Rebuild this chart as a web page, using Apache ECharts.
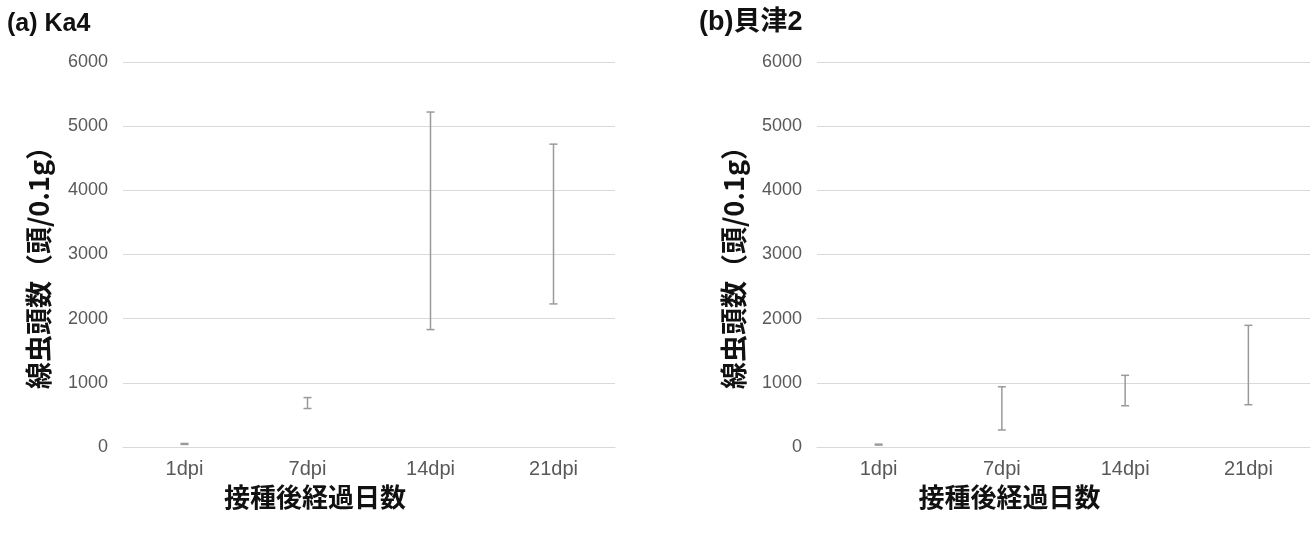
<!DOCTYPE html>
<html>
<head>
<meta charset="utf-8">
<script src="https://cdn.jsdelivr.net/npm/echarts@6/dist/echarts.min.js"></script>
<style>
  html, body { margin: 0; padding: 0; background: #fff; }
  #chart { width: 1314px; height: 534px; }
</style>
</head>
<body>
<div id="chart"></div>
<script>
var categories = ['1dpi', '7dpi', '14dpi', '21dpi'];
var yTicks = [0, 1000, 2000, 3000, 4000, 5000, 6000];

// error bar ranges (low / high)
var ka4Low = [40, 600, 1830, 2230];
var ka4High = [55, 770, 5220, 4720];
var kaizuLow = [30, 265, 643, 659];
var kaizuHigh = [45, 939, 1117, 1896];

var latin = '"Liberation Sans", "Noto Sans CJK JP", sans-serif';
var cjk = '"Noto Sans CJK JP", "Liberation Sans", sans-serif';

function pairs(low, high) {
    return categories.map(function (c, i) { return [i, low[i], high[i]]; });
}

function errorBar(params, api) {
    var lo = api.coord([api.value(0), api.value(1)]);
    var hi = api.coord([api.value(0), api.value(2)]);
    var half = 4;
    var style = { stroke: '#9a9a9a', lineWidth: 1.5 };
    return {
        type: 'group',
        children: [
            { type: 'line', shape: { x1: lo[0], y1: lo[1], x2: hi[0], y2: hi[1] }, style: style },
            { type: 'line', shape: { x1: lo[0] - half, y1: lo[1], x2: lo[0] + half, y2: lo[1] }, style: style },
            { type: 'line', shape: { x1: hi[0] - half, y1: hi[1], x2: hi[0] + half, y2: hi[1] }, style: style }
        ]
    };
}

function xAxis(idx) {
    return {
        type: 'category',
        gridIndex: idx,
        data: categories,
        name: '接種後経過日数',
        nameLocation: 'middle',
        nameGap: 36,
        nameTextStyle: { fontFamily: cjk, fontSize: 26, fontWeight: 'bold', color: '#111', padding: [0, 108, 0, 0] },
        axisLine: { show: true, lineStyle: { color: '#d9d9d9' } },
        axisTick: { show: false },
        axisLabel: { fontFamily: latin, fontSize: 20, color: '#595959', margin: 12 }
    };
}

function yAxis(idx, gap) {
    return {
        type: 'value',
        gridIndex: idx,
        min: yTicks[0],
        max: yTicks[yTicks.length - 1],
        interval: 1000,
        name: '線虫頭数（頭/0.1g）',
        nameLocation: 'middle',
        nameGap: gap,
        nameTextStyle: { fontFamily: cjk, fontSize: 27, fontWeight: 'bold', color: '#111', padding: [0, 13, 0, 0] },
        axisLine: { show: false },
        axisTick: { show: false },
        axisLabel: { fontFamily: latin, fontSize: 18, color: '#595959', margin: 15, formatter: function (v) { return String(v); } },
        splitLine: { lineStyle: { color: '#d9d9d9', width: 1 } }
    };
}

var chart = echarts.init(document.getElementById('chart'));
chart.setOption({
    backgroundColor: '#fff',
    animation: false,
    title: [
        { text: '(a) Ka4', left: 2, top: 7, textStyle: { fontFamily: latin, fontSize: 25, fontWeight: 'bold', color: '#111' } },
        { text: '(b)貝津2', left: 694, top: 4, textStyle: { fontFamily: latin, fontSize: 27, fontWeight: 'bold', color: '#111' } }
    ],
    grid: [
        { left: 123, right: 699, top: 62, bottom: 87 },
        { left: 817, right: 4, top: 62, bottom: 87 }
    ],
    xAxis: [xAxis(0), xAxis(1)],
    yAxis: [yAxis(0, 71), yAxis(1, 70)],
    series: [
        { type: 'custom', xAxisIndex: 0, yAxisIndex: 0, renderItem: errorBar, encode: { x: 0, y: [1, 2] }, data: pairs(ka4Low, ka4High) },
        { type: 'custom', xAxisIndex: 1, yAxisIndex: 1, renderItem: errorBar, encode: { x: 0, y: [1, 2] }, data: pairs(kaizuLow, kaizuHigh) }
    ]
});
</script>
</body>
</html>
